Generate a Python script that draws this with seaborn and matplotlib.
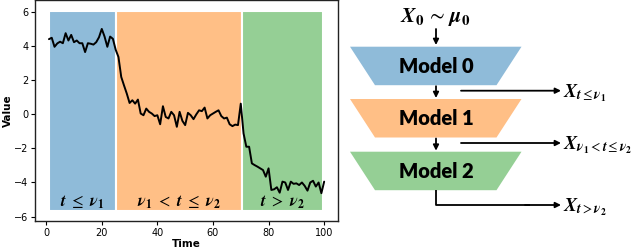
import numpy as np
import pandas as pd
import seaborn as sns
import matplotlib.pyplot as plt
from matplotlib.patches import Polygon

# series
time = list(range(1, 101))
value = [4.42, 4.50, 3.97, 4.17, 4.27, 4.18, 4.77, 4.34, 4.67, 4.24,
         4.34, 4.18, 4.18, 3.66, 4.18, 4.15, 4.10, 4.24, 4.53, 5.02,
         4.57, 3.97, 4.57, 4.44, 3.80, 3.37, 2.20, 1.70, 1.22, 0.67,
         0.83, 0.63, 0.87, 0.05, -0.05, 0.34, 0.15, 0.05, -0.10, -0.05,
         -0.58, 0.48, -0.15, -0.24, 0.15, -0.05, -0.73, 0.15, -0.38, -0.63,
         0.09, -0.05, -0.28, 0.00, 0.24, 0.19, 0.40, -0.24, -0.05, 0.05,
         0.15, 0.24, -0.10, -0.24, -0.19, -0.58, -0.69, -0.60, -0.63, 0.63,
         -1.12, -1.90, -1.90, -2.88, -2.98, -3.07, -3.17, -3.27, -3.66, -3.17,
         -4.44, -4.40, -4.28, -4.60, -3.95, -4.00, -4.44, -3.95, -4.08, -4.05,
         -4.15, -4.00, -4.20, -4.48, -4.00, -3.90, -4.24, -4.00, -4.63, -3.95]
df = pd.DataFrame({"Time": time, "Value": value})

# segments (start, end), labels, colours
seg_bounds = [(1, 25), (25, 70.5), (70.5, 99.5)]
seg_labels = [r"$\mathbfit{t}\ \leq\ \mathbfit{\nu}_\mathbf{1}$",
              r"$\mathbfit{\nu}_\mathbf{1}\ <\ \mathbfit{t}\ \leq\ \mathbfit{\nu}_\mathbf{2}$",
              r"$\mathbfit{t}\ >\ \mathbfit{\nu}_\mathbf{2}$"]
seg_colors = ["#8fbbd9", "#ffbf86", "#95cf95"]
span_low, span_high = -5.65, 6.1

model_names = ["Model 0", "Model 1", "Model 2"]
out_labels = [r"$\mathbfit{X}_{\mathbfit{t}\leq\mathbfit{\nu}_\mathbf{1}}$",
              r"$\mathbfit{X}_{\mathbfit{\nu}_\mathbf{1}<\mathbfit{t}\leq\mathbfit{\nu}_\mathbf{2}}$",
              r"$\mathbfit{X}_{\mathbfit{t}>\mathbfit{\nu}_\mathbf{2}}$"]
start_label = r"$\mathbfit{X}_\mathbf{0}\,\sim\,\mathbfit{\mu}_\mathbf{0}$"

sns.set_style("ticks")
plt.rcParams["mathtext.fontset"] = "stix"
plt.rcParams["font.family"] = ["DejaVu Sans"]
for key in ["text.color", "axes.labelcolor", "xtick.color", "ytick.color"]:
    plt.rcParams[key] = "black"

fig = plt.figure(figsize=(6.4, 2.49), dpi=100)
ax = fig.add_axes([0.055, 0.114, 0.473, 0.884])

for (a, b), lab, c in zip(seg_bounds, seg_labels, seg_colors):
    ax.fill_between([a, b], span_low, span_high, color=c, edgecolor="white", lw=1.5)
    ax.text((a + b) / 2, -5.15, lab, ha="center", va="center", fontsize=12)

sns.lineplot(data=df, x="Time", y="Value", color="black", lw=1.4, ax=ax)
ax.set_xlim(-3.95, 104.95)
ax.set_ylim(-6.24, 6.69)
ax.set_xticks([0, 20, 40, 60, 80, 100])
ax.set_yticks([-6, -4, -2, 0, 2, 4, 6])
ax.tick_params(labelsize=7, length=3, width=0.8, pad=2)
ax.set_xlabel("Time", fontsize=7.5, fontweight="bold", labelpad=1)
ax.set_ylabel("Value", fontsize=7.5, fontweight="bold", labelpad=1)
for s in ax.spines.values():
    s.set_color("#222222")
    s.set_linewidth(1.0)

# diagram on a pixel-coordinate overlay
ov = fig.add_axes([0, 0, 1, 1])
ov.set_xlim(0, 640)
ov.set_ylim(249, 0)
ov.axis("off")

cx = 436
tops = [46.7, 99, 151.7]
h = 38.5
arrow_kw = dict(arrowstyle="-|>", lw=1.3, color="black", mutation_scale=8,
                shrinkA=0, shrinkB=0)

ov.text(cx - 1, 21.7, start_label, ha="center", va="baseline", fontsize=15.5)
ov.annotate("", xy=(cx, 45), xytext=(cx, 29), arrowprops=arrow_kw)

for i, (name, c, top) in enumerate(zip(model_names, seg_colors, tops)):
    bot = top + h
    ov.add_patch(Polygon([(350, top), (521.5, top), (496.5, bot), (375, bot)],
                         closed=True, facecolor=c, edgecolor="none"))
    ov.text(cx, (top + bot) / 2 + 0.5, name, ha="center", va="center", color="black",
            fontsize=14.5, fontweight="heavy", family=["Lato", "DejaVu Sans"])
    if i < 2:
        ov.annotate("", xy=(cx, tops[i + 1] - 1), xytext=(cx, bot + 1), arrowprops=arrow_kw)
        yh = bot + 5.5
        ov.annotate("", xy=(561, yh), xytext=(461, yh), arrowprops=arrow_kw)
        ov.text(563, yh + 6.5, out_labels[i], ha="left", va="baseline", fontsize=14)

ov.plot([cx, cx, 530], [tops[2] + h, 205, 205], color="black", lw=1.3, solid_capstyle="butt")
ov.annotate("", xy=(561, 205), xytext=(525, 205), arrowprops=arrow_kw)
ov.text(563, 211.5, out_labels[2], ha="left", va="baseline", fontsize=14)

fig.savefig("out.png", dpi=100)
